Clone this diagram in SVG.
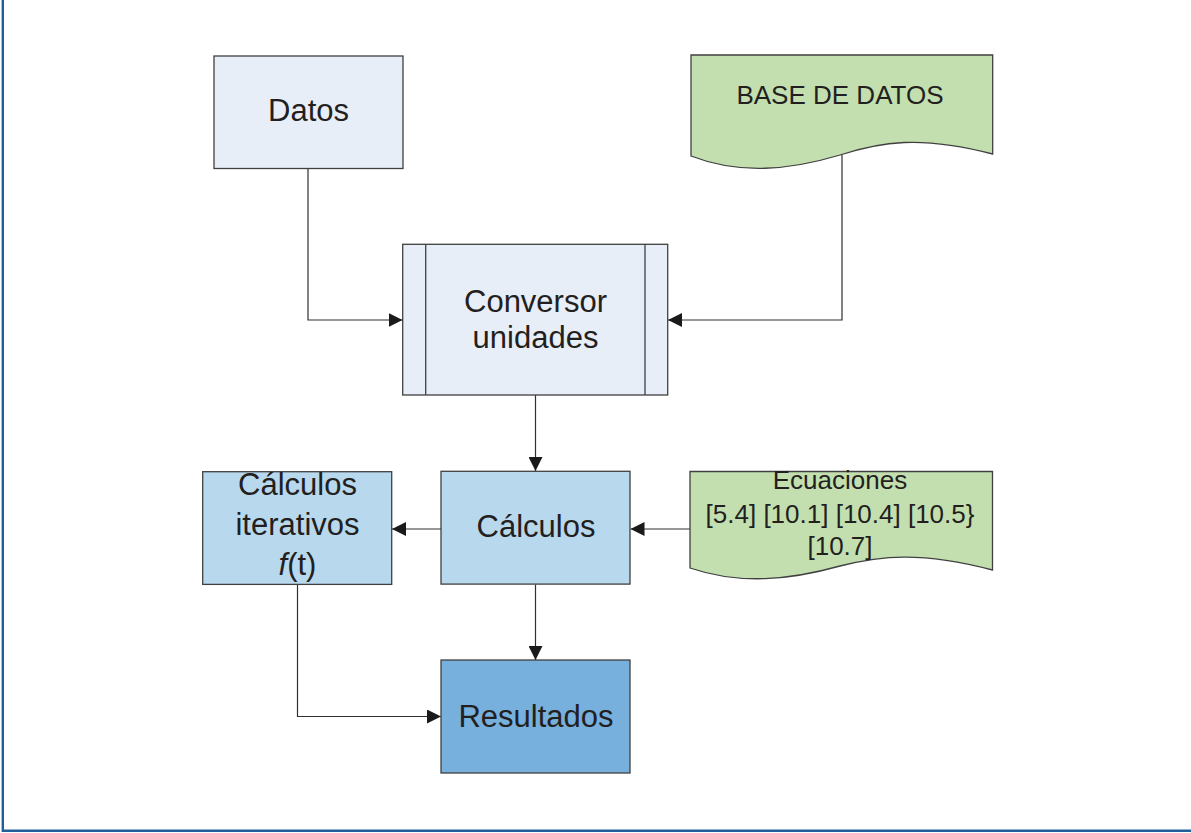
<svg xmlns="http://www.w3.org/2000/svg" width="1191" height="833" viewBox="0 0 1191 833">
<style>
.box{stroke:#404040;stroke-width:1.3}
.t{font-family:"Liberation Sans",Arial,sans-serif;font-size:31px;fill:#231f20;text-anchor:middle}
.ts{font-family:"Liberation Sans",Arial,sans-serif;font-size:26px;fill:#231f20;text-anchor:middle}
.c{fill:none;stroke:#303030;stroke-width:1.2}
</style>
<defs>
<marker id="ah" markerUnits="userSpaceOnUse" markerWidth="14" markerHeight="14" refX="14" refY="7" orient="auto">
<path d="M0,0 L14,7 L0,14 Z" fill="#1a1a1a"/>
</marker>
</defs>
<rect width="1191" height="833" fill="#ffffff"/>
<g id="frame">
<line x1="2.8" y1="0" x2="2.8" y2="832" stroke="#215f9a" stroke-width="2.4"/>
<line x1="2" y1="830.7" x2="1191" y2="830.7" stroke="#215f9a" stroke-width="2.4"/>
</g>
<g id="connectors">
<path class="c" d="M308,168.5 V320 H402.5" marker-end="url(#ah)"/>
<path class="c" d="M842,155 V320 H668" marker-end="url(#ah)"/>
<path class="c" d="M535.5,395 V471" marker-end="url(#ah)"/>
<path class="c" d="M690,529 H630.5" marker-end="url(#ah)"/>
<path class="c" d="M441,529 H392" marker-end="url(#ah)"/>
<path class="c" d="M535.5,584.5 V660" marker-end="url(#ah)"/>
<path class="c" d="M297.5,584.5 V716.5 H441" marker-end="url(#ah)"/>
</g>
<g id="datos">
<rect class="box" x="214" y="56" width="189" height="112.5" fill="#e8eef7"/>
<text class="t" x="308.5" y="121">Datos</text>
</g>
<g id="base-de-datos">
<path class="box" d="M691,55 H992.7 V154 C920,135 880,142 840,155 C790,170 740,175 691,156 Z" fill="#c3dfb0"/>
<text class="ts" x="840" y="104">BASE DE DATOS</text>
</g>
<g id="conversor">
<rect class="box" x="402.7" y="244.3" width="265" height="150.7" fill="#e8eef7"/>
<line x1="425.7" y1="244.3" x2="425.7" y2="395" stroke="#404040" stroke-width="1.3"/>
<line x1="645" y1="244.3" x2="645" y2="395" stroke="#404040" stroke-width="1.3"/>
<text class="t" x="535.5" y="311.5">Conversor</text>
<text class="t" x="535.5" y="348">unidades</text>
</g>
<g id="calculos-iterativos">
<rect class="box" x="202.7" y="471.7" width="189" height="112.7" fill="#b8d8ee"/>
<text class="t" x="297.5" y="495">Cálculos</text>
<text class="t" x="297.5" y="534.5">iterativos</text>
<text class="t" x="297.5" y="575"><tspan font-style="italic">f</tspan>(t)</text>
</g>
<g id="calculos">
<rect class="box" x="441" y="471.3" width="189" height="112.8" fill="#b8d8ee"/>
<text class="t" x="536" y="537">Cálculos</text>
</g>
<g id="ecuaciones">
<path class="box" d="M690,471.5 H992.5 V570 C920,551 880,556 840,566 C790,580 740,585 690,568 Z" fill="#c3dfb0"/>
<text class="ts" x="840" y="489">Ecuaciones</text>
<text class="ts" x="840" y="522.5">[5.4] [10.1] [10.4] [10.5}</text>
<text class="ts" x="840" y="555">[10.7]</text>
</g>
<g id="resultados">
<rect class="box" x="441" y="660" width="189" height="113" fill="#77b0dd"/>
<text class="t" x="536" y="727">Resultados</text>
</g>
</svg>
